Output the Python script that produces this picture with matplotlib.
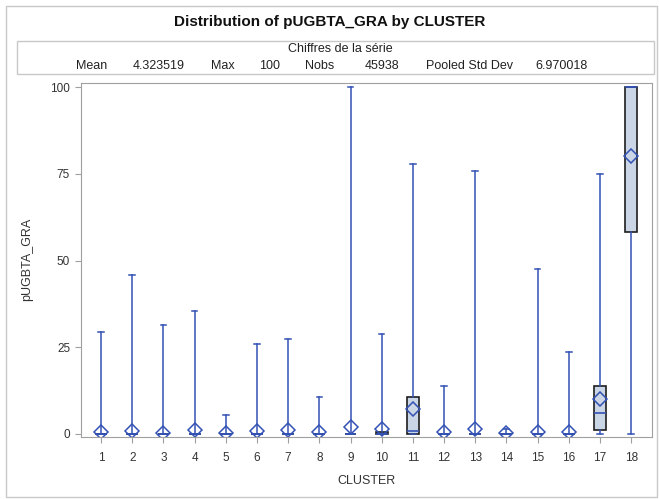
import matplotlib
matplotlib.use("Agg")
import matplotlib.pyplot as plt
from matplotlib.patches import Rectangle

plt.rcParams["font.family"] = ["Liberation Sans", "DejaVu Sans"]

W, H = 659, 499

clusters   = [str(i) for i in range(1, 19)]
whisk_lo   = [0] * 18
q1         = [0, 0, 0, 0, 0, 0, 0, 0, 0, 0, 0, 0, 0, 0, 0, 0, 1.15, 58.3]
medians    = [0, 0, 0, 0, 0, 0, 0, 0, 0, 0, 0.9, 0, 0, 0, 0, 0, 6.1, 100]
q3         = [0, 0, 0, 0, 0, 0, 0, 0, 0, 0.4, 10.6, 0, 0, 0, 0, 0, 13.8, 100]
whisk_hi   = [29.4, 45.9, 31.4, 35.5, 5.5, 26.0, 27.4, 10.7, 100, 28.8,
              77.9, 13.8, 75.9, 1.4, 47.6, 23.7, 75.0, 100]
means      = [0.4, 0.7, 0.2, 1.0, 0.2, 0.7, 1.0, 0.4, 2.1, 1.3,
              7.1, 0.4, 1.4, 0.3, 0.4, 0.4, 10.0, 80.3]

stat_labels = ["Mean", "4.323519", "Max", "100", "Nobs", "45938",
               "Pooled Std Dev", "6.970018"]
stat_xpix   = [92, 159, 223, 270, 320, 382, 470, 562]

BLUE = "#3352B4"
FILL = "#CAD5E6"
GREY = "#A0A0A0"
TXT  = "#333333"

fig = plt.figure(figsize=(W / 100, H / 100), dpi=100)

# outer border and stats inset
fig.patches.append(Rectangle((5.5 / W, 1 - 497 / H), (657 - 5.5) / W, (497 - 5.5) / H,
                             transform=fig.transFigure, fill=False, ec="#C8C8C8", lw=1))
fig.patches.append(Rectangle((17.3 / W, 1 - 74.3 / H), (654 - 17.3) / W, (74.3 - 40.7) / H,
                             transform=fig.transFigure, fill=False, ec="#C8C8C8", lw=1))

fig.text(330 / W, 1 - 22 / H, "Distribution of pUGBTA_GRA by CLUSTER",
         ha="center", va="center", fontsize=11, fontweight="bold", color="#111111")
fig.text(340 / W, 1 - 49.5 / H, "Chiffres de la série", ha="center", va="center",
         fontsize=9, color="#222222")
for lab, xp in zip(stat_labels, stat_xpix):
    fig.text(xp / W, 1 - 66 / H, lab, ha="center", va="center", fontsize=9, color="#222222")

L, R, T, B = 80.5, 652, 82.5, 437
ax = fig.add_axes([L / W, 1 - B / H, (R - L) / W, (B - T) / H])

stats = []
for i in range(18):
    stats.append({"label": clusters[i], "whislo": whisk_lo[i], "q1": q1[i],
                  "med": medians[i], "q3": q3[i], "whishi": whisk_hi[i],
                  "mean": means[i], "fliers": []})

pos = list(range(1, 19))
ax.bxp(stats, positions=pos, widths=0.38, capwidths=0.18, patch_artist=True,
       showmeans=True, showfliers=False,
       boxprops=dict(facecolor=FILL, edgecolor="#1E1E1E", lw=1.2),
       whiskerprops=dict(color=BLUE, lw=1.1),
       capprops=dict(color=BLUE, lw=1.1),
       medianprops=dict(color=BLUE, lw=1.2),
       meanprops=dict(marker="D", markersize=7.5, markerfacecolor="none",
                      markeredgecolor=BLUE, markeredgewidth=1.1))

ax.set_xlim(0.34, 18.67)
ax.set_ylim(-0.9, 101.4)
ax.set_yticks([0, 25, 50, 75, 100])
ax.set_xticks(pos)
ax.set_xticklabels(clusters)
for s in ax.spines.values():
    s.set_color(GREY)
ax.tick_params(colors=TXT, labelsize=8.5, length=4, width=0.8)
ax.tick_params(axis="both", color=GREY)
ax.tick_params(axis="x", pad=7)
ax.set_xlabel("CLUSTER", fontsize=9, color=TXT, labelpad=8)
ax.set_ylabel("pUGBTA_GRA", fontsize=9, color=TXT, labelpad=12)

fig.savefig("out.png", dpi=100)
